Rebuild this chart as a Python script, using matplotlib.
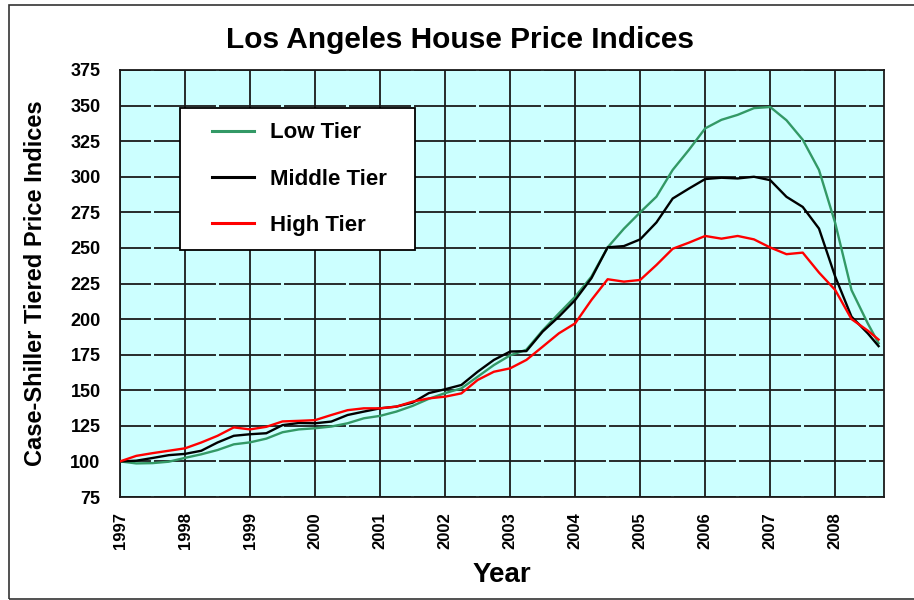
import matplotlib
matplotlib.use('Agg')
import matplotlib.pyplot as plt
from matplotlib.lines import Line2D
from matplotlib.legend_handler import HandlerLine2D
from matplotlib.patches import Rectangle
from matplotlib import font_manager

# ---------------- data (quarterly readings, S&P/Case-Shiller LA tiers) ----------------
dates = ["1997-01", "1997-04", "1997-07", "1997-10",
         "1998-01", "1998-04", "1998-07", "1998-10",
         "1999-01", "1999-04", "1999-07", "1999-10",
         "2000-01", "2000-04", "2000-07", "2000-10",
         "2001-01", "2001-04", "2001-07", "2001-10",
         "2002-01", "2002-04", "2002-07", "2002-10",
         "2003-01", "2003-04", "2003-07", "2003-10",
         "2004-01", "2004-04", "2004-07", "2004-10",
         "2005-01", "2005-04", "2005-07", "2005-10",
         "2006-01", "2006-04", "2006-07", "2006-10",
         "2007-01", "2007-04", "2007-07", "2007-10",
         "2008-01", "2008-04", "2008-07", "2008-09"]

low_tier = [100, 98.6, 98.8, 99.8,
            102.5, 105, 108, 112,
            113.4, 116, 120.5, 122.5,
            123.3, 124.5, 126.8, 130.3,
            132, 135, 139, 144,
            148, 151.3, 159.5, 167.7,
            174.5, 178.5, 192, 204,
            215.7, 229.8, 250.4, 263.5,
            275, 286, 304.8, 318.9,
            334, 340, 343.5, 348.2,
            349, 339.7, 326, 304.8,
            267.4, 220.4, 197, 183]

middle_tier = [100, 100.5, 102.4, 104.4,
               105.3, 107.5, 113.3, 118,
               119.1, 119.8, 125.5, 127,
               126.8, 128, 132.6, 135,
               137.3, 138.5, 141.3, 148,
               150.7, 153.7, 163, 171.3,
               177.2, 177.5, 191.2, 201.7,
               213.4, 228.7, 250.4, 251.3,
               256, 267.9, 284.7, 291.7,
               298.4, 299.3, 298.8, 300,
               297.6, 285.9, 278.8, 263.6,
               229.8, 201.7, 190, 181]

high_tier = [100, 103.9, 105.8, 107.5,
             109.2, 113.3, 118, 123.9,
             122.5, 124.3, 128.1, 128.5,
             129, 132.6, 136, 137.3,
             137.3, 138.5, 142, 144.3,
             145.5, 147.8, 157.2, 163,
             165.4, 171.3, 180.6, 190,
             197, 213.4, 228, 226.3,
             227.5, 238, 249.4, 253.7,
             258.4, 256.5, 258.4, 256,
             250.3, 245.6, 246.7, 232.7,
             220.4, 200, 191.9, 185.6]

series_names = ["Low Tier", "Middle Tier", "High Tier"]
series_colors = ["#339966", "#000000", "#FF0000"]

year_ticks = list(range(1997, 2009))
y_ticks = list(range(75, 376, 25))

title = "Los Angeles House Price Indices"
x_label = "Year"
y_label = "Case-Shiller Tiered Price Indices"

# ---------------- style ----------------
plt.rcParams['font.family'] = ['Liberation Sans', 'DejaVu Sans']
plt.rcParams['lines.scale_dashes'] = False

names = {f.name for f in font_manager.fontManager.ttflist}
narrow = 'Liberation Sans Narrow' in names
ylab_family = ['Liberation Sans Narrow', 'Liberation Sans'] if narrow else ['Liberation Sans']
ylab_size = 20.5 if narrow else 17

W, H = 914, 600
fig = plt.figure(figsize=(W / 100, H / 100), dpi=100)
ax = fig.add_axes([120 / W, 1 - 497 / H, 764 / W, 427 / H])
ax.set_facecolor('#CCFFFF')

t = [int(d[:4]) + (int(d[5:7]) - 1) / 12 for d in dates]
for vals, name, col in zip([low_tier, middle_tier, high_tier], series_names, series_colors):
    ax.plot(t, vals, color=col, lw=1.7, label=name, zorder=3)

ax.set_xlim(1997, 2008.75)
ax.set_ylim(75, 375)
ax.set_xticks(year_ticks)
ax.set_xticklabels([str(y) for y in year_ticks], rotation=90,
                   fontsize=12, fontweight='bold')
ax.set_yticks(y_ticks)
ax.set_yticklabels([str(v) for v in y_ticks], fontsize=13, fontweight='bold')
ax.tick_params(axis='both', length=0)
ax.tick_params(axis='x', pad=11)
ax.tick_params(axis='y', pad=14)

ax.set_axisbelow(True)
ax.xaxis.grid(True, color='#1a1a1a', lw=1.3)
ax.yaxis.grid(True, color='#1a1a1a', lw=1.3, linestyle=(22.3, (44.6, 2.2)))
for s in ax.spines.values():
    s.set_color('#1a1a1a')
    s.set_linewidth(1.3)

ax.set_xlabel(x_label, fontsize=20, fontweight='bold')
ax.xaxis.set_label_coords(0.5, -0.153)
ax.set_ylabel(y_label, fontsize=ylab_size, fontweight='bold', family=ylab_family)
ax.yaxis.set_label_coords(-0.096, 0.5)

fig.text(460 / W, 1 - 48 / H, title, ha='center', va='baseline',
         fontsize=21.5, fontweight='bold')

leg = ax.legend(loc='upper left',
                bbox_to_anchor=(60 / 764, 0, 235 / 764, (497 - 108) / 427),
                mode='expand', borderaxespad=0, borderpad=0.65,
                handlelength=2.7, handletextpad=0.72, labelspacing=1.13,
                prop=dict(family='Liberation Sans', weight='bold', size=16),
                frameon=True, fancybox=False, framealpha=1,
                edgecolor='black', facecolor='white',
                handler_map={Line2D: HandlerLine2D(xpad=0.81)})
leg.get_frame().set_linewidth(1.3)
for h in leg.get_lines():
    h.set_linewidth(2.2)

fig.add_artist(Rectangle((9 / W, 1.5 / H), 1.0, 594 / H, transform=fig.transFigure,
                         fill=False, edgecolor='#333333', lw=1.2, clip_on=False))

fig.savefig('out.png', dpi=100)
